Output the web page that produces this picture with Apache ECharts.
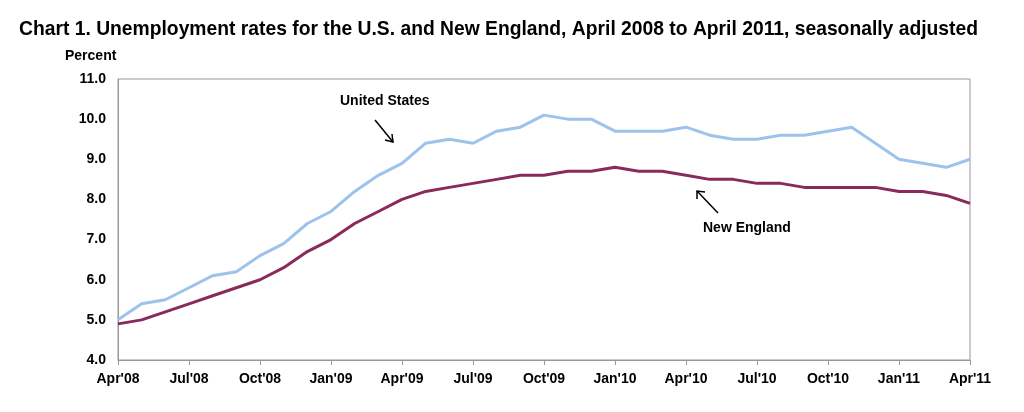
<!DOCTYPE html>
<html><head><meta charset="utf-8">
<script src="https://cdn.jsdelivr.net/npm/echarts@6/dist/echarts.min.js"></script>
<style>body{margin:0;background:#fff}#c{width:1024px;height:412px}</style>
</head><body><div id="c"></div>
<script>
var mon = ['Jan','Feb','Mar','Apr','May','Jun','Jul','Aug','Sep','Oct','Nov','Dec'];
var months = [];
for (var i = 0; i < 37; i++) {
  var m = (3 + i) % 12, y = 8 + Math.floor((3 + i) / 12);
  months.push(mon[m] + "'" + (y < 10 ? '0' + y : y));
}
var usRate = [5.0,5.4,5.5,5.8,6.1,6.2,6.6,6.9,7.4,7.7,8.2,8.6,8.9,9.4,9.5,9.4,9.7,9.8,10.1,10.0,10.0,
  9.7,9.7,9.7,9.8,9.6,9.5,9.5,9.6,9.6,9.7,9.8,9.4,9.0,8.9,8.8,9.0];
var neRate = [4.9,5.0,5.2,5.4,5.6,5.8,6.0,6.3,6.7,7.0,7.4,7.7,8.0,8.2,8.3,8.4,8.5,8.6,8.6,8.7,8.7,
  8.8,8.7,8.7,8.6,8.5,8.5,8.4,8.4,8.3,8.3,8.3,8.3,8.2,8.2,8.1,7.9];

var chart = echarts.init(document.getElementById('c'));
var txt = {fontFamily:'Arial, Liberation Sans', fontWeight:'bold', fontSize:14, fill:'#000'};
chart.setOption({
  animation:false,
  title:{text:'Chart 1. Unemployment rates for the U.S. and New England, April 2008 to April 2011, seasonally adjusted',
    left:14, top:15, textStyle:{fontFamily:'Arial, Liberation Sans', fontSize:19.3, fontWeight:'bold', color:'#000'}},
  grid:{left:118, right:54, top:79, bottom:52, show:true, borderColor:'#999', borderWidth:1},
  xAxis:{type:'category', data:months, boundaryGap:false,
    axisLine:{lineStyle:{color:'#999'}},
    axisTick:{interval:2, length:5, lineStyle:{color:'#999'}},
    axisLabel:{interval:2, margin:12, color:'#000', fontWeight:'bold', fontSize:14, fontFamily:'Arial, Liberation Sans'},
    splitLine:{show:false}},
  yAxis:{type:'value', min:4, max:11, interval:1,
    axisLine:{show:true, lineStyle:{color:'#999'}},
    axisTick:{show:false},
    axisLabel:{formatter:function(v){return v.toFixed(1);}, margin:12, color:'#000', fontWeight:'bold', fontSize:14, fontFamily:'Arial, Liberation Sans'},
    splitLine:{show:false}},
  graphic:[
    {type:'text', left:65, top:49, style:Object.assign({text:'Percent'}, txt)},
    {type:'text', left:340, top:94, style:Object.assign({text:'United States'}, txt)},
    {type:'text', left:703, top:221, style:Object.assign({text:'New England'}, txt)},
    {type:'line', shape:{x1:375,y1:120,x2:393,y2:142}, style:{stroke:'#000', lineWidth:1.5}},
    {type:'polyline', shape:{points:[[385,140],[393,142],[392,134]]}, style:{stroke:'#000', lineWidth:1.5, fill:null}},
    {type:'line', shape:{x1:718,y1:213,x2:697,y2:191}, style:{stroke:'#000', lineWidth:1.5}},
    {type:'polyline', shape:{points:[[697,199],[697,191],[705,192]]}, style:{stroke:'#000', lineWidth:1.5, fill:null}}
  ],
  series:[
    {name:'United States', type:'line', data:usRate, symbol:'none', lineStyle:{color:'#9dc3ec', width:3}},
    {name:'New England', type:'line', data:neRate, symbol:'none', lineStyle:{color:'#8a2a5b', width:3}}
  ]
});
</script></body></html>
